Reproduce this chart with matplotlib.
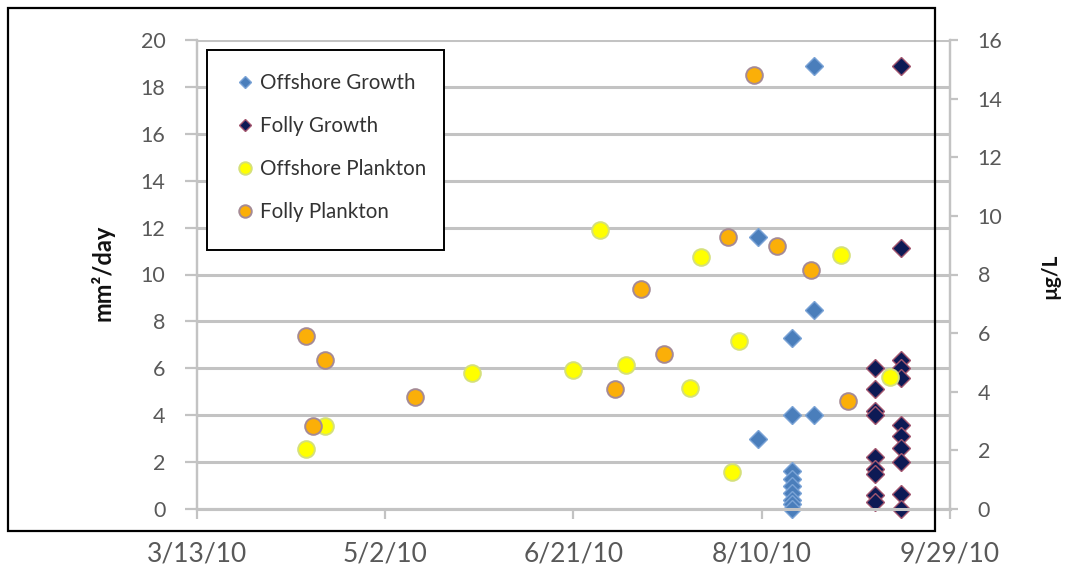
import matplotlib
matplotlib.use("Agg")
import matplotlib.pyplot as plt
import matplotlib.dates as mdates
from matplotlib.patches import Rectangle
from matplotlib.lines import Line2D
import numpy as np

plt.rcParams['font.family'] = ['Lato', 'DejaVu Sans']

# ---------------- data ----------------
offshore_growth_dates = ["2010-08-09", "2010-08-09",
                         "2010-08-18", "2010-08-18", "2010-08-18", "2010-08-18", "2010-08-18",
                         "2010-08-18", "2010-08-18", "2010-08-18", "2010-08-18",
                         "2010-08-24", "2010-08-24", "2010-08-24"]
offshore_growth_vals = [3.0, 11.6,
                        7.3, 4.0, 1.6, 1.3, 1.0, 0.7, 0.4, 0.2, 0.0,
                        4.0, 8.5, 18.9]

folly_growth_dates = ["2010-09-09"] * 9 + ["2010-09-16"] * 11
folly_growth_vals = [6.0, 5.1, 4.2, 4.0, 2.2, 1.7, 1.5, 0.6, 0.3,
                     6.35, 6.0, 5.6, 3.6, 3.1, 2.6, 2.0, 0.65, 0.0, 11.15, 18.9]

offshore_plankton_dates = ["2010-04-11", "2010-04-16", "2010-05-25", "2010-06-21",
                           "2010-06-28", "2010-07-05", "2010-07-22", "2010-07-25",
                           "2010-08-02", "2010-08-04", "2010-08-31", "2010-09-13"]
offshore_plankton_vals = [2.05, 2.83, 4.65, 4.74, 9.52, 4.91, 4.12, 8.59,
                          1.26, 5.73, 8.67, 4.50]

folly_plankton_dates = ["2010-04-11", "2010-04-13", "2010-04-16", "2010-05-10",
                        "2010-07-02", "2010-07-09", "2010-07-15", "2010-08-01",
                        "2010-08-08", "2010-08-14", "2010-08-23", "2010-09-02"]
folly_plankton_vals = [5.90, 2.83, 5.08, 3.81, 4.09, 7.51, 5.29, 9.27,
                       14.81, 8.97, 8.15, 3.68]

series_labels = ["Offshore Growth", "Folly Growth", "Offshore Plankton", "Folly Plankton"]
x_tick_dates = ["2010-03-13", "2010-05-02", "2010-06-21", "2010-08-10", "2010-09-29"]
left_ticks = list(range(0, 21, 2))
right_ticks = list(range(0, 17, 2))
left_label = "mm²/day"
right_label = "µg/L"


def to_dates(lst):
    return [np.datetime64(s) for s in lst]


W, H = 1068, 577
fig = plt.figure(figsize=(W / 100, H / 100), dpi=100)
fig.patch.set_facecolor("white")


def px(x0, y0, x1, y1):
    """pixel box (top-left origin) -> figure fraction [l, b, w, h]"""
    return [x0 / W, 1 - y1 / H, (x1 - x0) / W, (y1 - y0) / H]


ax = fig.add_axes(px(196.7, 40, 950, 509))
ax2 = ax.twinx()

grid_c = "#c3c3c3"
tick_c = "#595959"

og_style = dict(marker="D", mfc="#4a7ebb", mec="#7aa3d6", mew=1.0)
fg_style = dict(marker="D", mfc="#0d1a55", mec="#a3566f", mew=1.0)
op_style = dict(marker="o", mfc="#ffff00", mec="#d5e07a", mew=1.4)
fp_style = dict(marker="o", mfc="#fbaf08", mec="#a58a95", mew=1.4)

# growth (primary axis)
ax.plot(to_dates(offshore_growth_dates), offshore_growth_vals, linestyle="none",
        ms=9, label=series_labels[0], zorder=3, clip_on=False, **og_style)
ax.plot(to_dates(folly_growth_dates), folly_growth_vals, linestyle="none",
        ms=9, label=series_labels[1], zorder=3, clip_on=False, **fg_style)

# plankton (secondary axis)
ax2.plot(to_dates(offshore_plankton_dates), offshore_plankton_vals, linestyle="none",
         ms=12, label=series_labels[2], zorder=3, clip_on=False, **op_style)
ax2.plot(to_dates(folly_plankton_dates), folly_plankton_vals, linestyle="none",
         ms=12, label=series_labels[3], zorder=3, clip_on=False, **fp_style)

xd = to_dates(x_tick_dates)
ax.set_xlim(xd[0], xd[-1])
ax.set_ylim(0, 20)
ax2.set_ylim(0, 16)
ax.set_yticks(left_ticks)
ax2.set_yticks(right_ticks)
ax.set_xticks(xd)


def fmt_date(d):
    dd = mdates.num2date(d)
    return f"{dd.month}/{dd.day}/{dd.year % 100}"


ax.xaxis.set_major_formatter(plt.FuncFormatter(lambda v, p: fmt_date(v)))

ax.set_axisbelow(True)
ax.yaxis.grid(True, color=grid_c, lw=2.2)
ax.xaxis.grid(False)

for a in (ax, ax2):
    a.spines["top"].set_visible(False)
    for s in ("left", "right", "bottom"):
        a.spines[s].set_color(grid_c)
    a.spines["left"].set_linewidth(1.6)
    a.spines["right"].set_linewidth(1.6)
    a.spines["bottom"].set_linewidth(2.2)
    a.patch.set_visible(False)

ax.tick_params(axis="y", direction="out", length=8.6, width=1.6, color=grid_c,
               labelsize=15.5, labelcolor=tick_c, pad=14)
ax.tick_params(axis="x", direction="out", length=7.2, width=1.6, color=grid_c,
               labelsize=19, labelcolor=tick_c, pad=16)
ax2.tick_params(axis="y", direction="out", length=6, width=1.6, color=grid_c,
                labelsize=15.5, labelcolor=tick_c, pad=14)

# axis titles
fig.text(103 / W, 1 - 273 / H, left_label, rotation=90, ha="center", va="center",
         fontsize=17, fontweight="bold", color="#111111")
fig.text(1050 / W, 1 - 276 / H, right_label, rotation=90, ha="center", va="center",
         fontsize=15, fontweight="bold", color="#111111")

# chart border
fig.patches.append(Rectangle((8 / W, 1 - 531 / H), (935 - 8) / W, (531 - 8) / H,
                             transform=fig.transFigure, fill=False, ec="black", lw=1.6,
                             zorder=10))

# legend box
fig.patches.append(Rectangle((207 / W, 1 - 250 / H), (444 - 207) / W, (250 - 50) / H,
                             transform=fig.transFigure, fc="white", ec="black", lw=1.4,
                             zorder=5))
handles = [
    Line2D([], [], linestyle="none", ms=6.5, **og_style),
    Line2D([], [], linestyle="none", ms=6.5, **fg_style),
    Line2D([], [], linestyle="none", ms=9, **op_style),
    Line2D([], [], linestyle="none", ms=9, **fp_style),
]
leg = fig.legend(handles, series_labels, loc="upper left",
                 bbox_to_anchor=(237 / W, 1 - 73 / H), frameon=False,
                 fontsize=14.8, handlelength=0.8, handletextpad=0.3, labelspacing=1.12,
                 borderpad=0, borderaxespad=0)
for t in leg.get_texts():
    t.set_color("#333333")
leg.set_zorder(11)

fig.savefig("out.png", dpi=100, facecolor="white")
